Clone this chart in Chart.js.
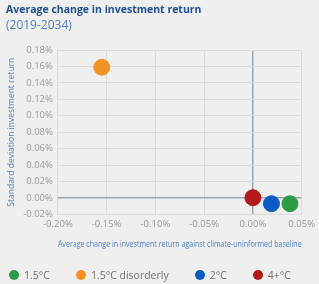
<!DOCTYPE html>
<html>
<head>
<meta charset="utf-8">
<script src="https://cdn.jsdelivr.net/npm/chart.js@4"></script>
<style>
  html, body { margin: 0; padding: 0; background: #efefef; }
  #wrap { position: relative; width: 319px; height: 284px; }
  #legend { position: absolute; left: 9px; top: 268px; font-family: 'Open Sans', sans-serif;
            font-size: 10.5px; color: #707070; white-space: nowrap; }
  #legend span.item { display: inline-block; margin-right: 26px; }
  #legend span.dot { display: inline-block; width: 10px; height: 10px; border-radius: 50%;
                     vertical-align: -1px; margin-right: 5px; }
</style>
</head>
<body>
<div id="wrap">
  <canvas id="chart" width="319" height="284"></canvas>
  <div id="legend"></div>
</div>
<script>
// scenarios and values (percent units)
const scenarios = ['1.5°C', '1.5°C disorderly', '2°C', '4+°C'];
const avgChange = [0.038, -0.155, 0.019, 0.0];      // x
const stdDev = [-0.007, 0.159, -0.007, 0.0003];     // y
const colors = ['#2e9a47', '#f39325', '#0a5bc4', '#b31b1b'];

const font = "'Open Sans', sans-serif";
const gridColor = '#dcdcdc';
const zeroColor = '#9aa5ae';

const datasets = scenarios.map(function(name, i) {
    return {
        label: name,
        data: [{ x: avgChange[i], y: stdDev[i] }],
        backgroundColor: colors[i],
        borderColor: colors[i],
        pointRadius: 8,
        pointHoverRadius: 8
    };
});

function isZero(ctx) {
    return ctx.tick && Math.abs(ctx.tick.value) < 1e-9;
}

function pct(v) {
    if (Math.abs(v) < 1e-9) v = 0;
    return v.toFixed(2) + '%';
}

const chart = new Chart(document.getElementById('chart').getContext('2d'), {
    type: 'scatter',
    data: { datasets: datasets },
    options: {
        responsive: false,
        animation: false,
        layout: { padding: { left: 6, right: 13, top: 0, bottom: 34 } },
        plugins: {
            title: {
                display: true,
                text: 'Average change in investment return',
                align: 'start',
                color: '#1d4f91',
                font: { family: font, size: 10.5, weight: 'bold' },
                padding: { top: 4, bottom: 2 }
            },
            subtitle: {
                display: true,
                text: '(2019-2034)',
                align: 'start',
                color: '#4f7fc0',
                font: { family: font, size: 12 },
                padding: { bottom: 17 }
            },
            legend: { display: false },
            tooltip: { enabled: false }
        },
        scales: {
            x: {
                min: -0.2,
                max: 0.05,
                ticks: {
                    stepSize: 0.05,
                    autoSkip: false,
                    maxRotation: 0,
                    color: '#999',
                    padding: 4,
                    font: { family: font, size: 9.5 },
                    callback: pct
                },
                grid: {
                    color: function(ctx) { return isZero(ctx) ? zeroColor : gridColor; },
                    lineWidth: function(ctx) { return isZero(ctx) ? 1.5 : 1; },
                    drawTicks: false
                },
                border: { display: false },
                title: {
                    display: true,
                    text: 'Average change in investment return against climate-uninformed baseline',
                    color: '#4f7fc0',
                    font: { family: font, size: 8.5 },
                    padding: { top: 6, bottom: 0 }
                }
            },
            y: {
                min: -0.02,
                max: 0.18,
                ticks: {
                    stepSize: 0.02,
                    autoSkip: false,
                    color: '#999',
                    padding: 5,
                    font: { family: font, size: 9.5 },
                    callback: pct
                },
                grid: {
                    color: function(ctx) { return isZero(ctx) ? zeroColor : gridColor; },
                    lineWidth: function(ctx) { return isZero(ctx) ? 1.5 : 1; },
                    drawTicks: false
                },
                border: { display: false },
                title: {
                    display: true,
                    text: 'Standard deviation investment return',
                    color: '#4f7fc0',
                    font: { family: font, size: 8.5 },
                    padding: { top: 0, bottom: 2 }
                }
            }
        }
    }
});

// html legend below the chart
const legendEl = document.getElementById('legend');
chart.data.datasets.forEach(function(ds) {
    const item = document.createElement('span');
    item.className = 'item';
    const dot = document.createElement('span');
    dot.className = 'dot';
    dot.style.background = ds.backgroundColor;
    item.appendChild(dot);
    item.appendChild(document.createTextNode(ds.label));
    legendEl.appendChild(item);
});
</script>
</body>
</html>
